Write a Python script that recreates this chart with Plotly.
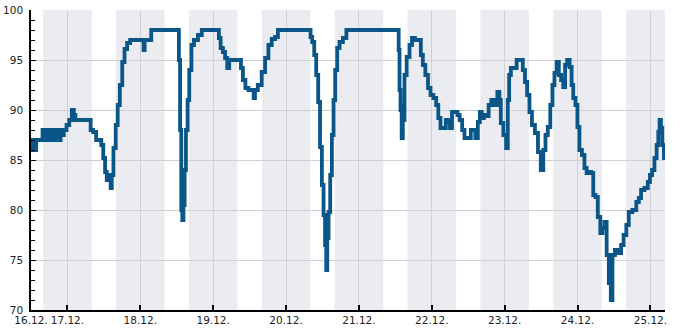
import datetime as dt
import plotly.graph_objects as go

# ---- data ----
base = dt.datetime(2023, 12, 16, 0, 0)

hours = [
    12.0, 13.2, 13.5, 13.9, 15.6, 16.0, 16.3, 16.7, 17.1, 17.5, 17.9, 18.4, 18.8, 19.3, 19.7,
    20.2, 20.6, 21.0, 21.5, 22.0, 22.4, 23.2, 24.2, 25.0, 25.9, 26.3, 26.9, 31.5, 31.8, 33.1,
    33.8, 34.8, 35.5, 36.1, 36.7, 37.2, 37.5, 38.06, 38.4, 38.8, 39.5, 40.3, 40.8, 41.7, 42.4,
    43.2, 44.1, 45.2, 48.9, 49.25, 49.6, 53.6, 60.54, 60.87, 61.33, 61.66, 61.99, 62.42, 62.75,
    63.31, 63.84, 64.39, 65.28, 66.04, 67.92, 68.58, 73.71, 74.04, 74.83, 75.59, 76.25, 77.0,
    77.56, 80.86, 81.42, 82.17, 83.06, 84.15, 85.1, 85.56, 85.96, 87.44, 88.53, 89.65, 90.73,
    91.82, 92.94, 93.7, 103.9, 104.23, 104.99, 105.55, 106.31, 106.86, 107.52, 108.08, 108.61,
    109.07, 109.4, 109.73, 110.26, 110.82, 111.37, 111.9, 112.46, 113.22, 114.01, 115.43,
    116.31, 132.97, 133.2, 133.53, 133.86, 134.29, 134.62, 134.85, 135.18, 136.26, 137.05,
    137.91, 139.03, 140.11, 140.67, 141.43, 142.32, 143.18, 143.97, 145.05, 145.81, 146.47,
    147.26, 148.35, 148.9, 149.76, 150.22, 151.08, 152.2, 152.72, 153.61, 154.37, 155.16,
    156.58, 157.13, 157.89, 158.78, 159.54, 160.1, 160.76, 161.51, 162.27, 163.16, 164.05,
    165.14, 166.03, 166.45, 167.01, 168.1, 168.86, 169.19, 169.75, 170.31, 171.72, 172.15,
    173.6, 174.35, 175.01, 175.77, 176.56, 177.41, 178.53, 179.39, 180.38, 181.04, 181.83,
    182.58, 183.47, 184.0, 184.79, 185.45, 186.21, 186.96, 187.62, 188.18, 188.94, 189.83,
    190.25, 190.91, 191.7, 192.23, 193.02, 193.88, 194.67, 195.33, 196.08, 196.84, 197.5,
    198.29, 199.05, 199.94, 200.46, 201.25, 201.91, 202.67, 203.23, 203.75, 204.87, 205.96,
    206.72, 207.61, 208.5, 209.25, 210.9, 211.79, 212.55, 213.3, 214.75, 215.51, 216.17,
    216.93, 217.72, 218.38, 218.81, 219.23, 219.69, 220.12, 220.78,
]
values = [
    86, 87, 86, 87, 87, 88, 87, 88, 87, 88, 87, 88, 87, 88, 87,
    88, 87.3, 88, 87, 88, 87.5, 88, 88.5, 89, 90, 89.5, 89, 89, 88, 87.8,
    87, 87, 86.5, 85.2, 83.8, 83, 83.5, 83, 82.2, 83.5, 86.2, 88.5, 90.5, 92.5, 94.8,
    96.1, 96.7, 97, 97, 96, 97, 98, 98, 95, 88, 80, 79, 80.5, 84,
    88, 91, 94, 96.5, 97, 97.5, 98, 98, 97.2, 96.2, 95.8, 95.2, 94.2,
    95, 95, 94.2, 93, 92.2, 92, 92, 91.2, 92, 92.5, 93.8, 95.2, 96.5,
    97.1, 97.3, 98, 98, 97.3, 96.8, 95.5, 93.5, 90.8, 86.3, 82.5, 79.5,
    76.5, 74, 77.2, 79.8, 83.5, 87.5, 91, 94, 96.2, 96.8, 97.2,
    98, 98, 96, 92, 90, 87.2, 90.5, 89, 93.5, 95.3, 96.5,
    97.2, 97, 97, 95.5, 94.5, 93.5, 92.2, 91.5, 91.2, 90.5, 89.2,
    88.2, 88.2, 89, 88.8, 88.2, 89.8, 89.8, 89.5, 89, 88, 87.2,
    87.2, 88, 88, 87.2, 88.8, 89.8, 89.2, 89.5, 89.4, 90.5, 91,
    90.5, 91.8, 91, 88.7, 87.5, 86.2, 91, 93.5, 94.2, 94.2, 95,
    95, 94, 92.8, 91.5, 89.8, 88.5, 87.7, 85.8, 84, 86, 87.5,
    88.3, 90.5, 92.5, 93.7, 94.8, 93.5, 93, 92.3, 94.5, 95, 94.3,
    92.5, 91.2, 90.5, 88.3, 86, 85.5, 84.2, 83.7, 83.8, 83.7, 81.5,
    81.3, 79.3, 77.7, 78.2, 78.8, 75.5, 72.7, 71, 75.5, 76, 75.7,
    76.5, 77.5, 78.5, 79.8, 80, 80.8, 81.2, 82, 82.2, 82.8, 83.5,
    84, 85.2, 86.5, 87.8, 89, 88.2, 86.5, 85.2,
]

tick_labels = ["16.12.", "17.12.", "18.12.", "19.12.", "20.12.", "21.12.",
               "22.12.", "23.12.", "24.12.", "25.12."]
tick_hours = [12, 24, 48, 72, 96, 120, 144, 168, 192, 216]
band_start_hours = [16, 40, 64, 88, 112, 136, 160, 184, 208]   # 16:00 -> 08:00 next day
band_length_hours = 16
x_range_hours = [12, 220.8]
y_range = [70, 100]

LINE = "#0b5688"
BAND = "#ebecf1"
GRID = "#d0d0d4"

def t(h):
    return base + dt.timedelta(hours=h)

fig = go.Figure()
fig.add_trace(go.Scatter(
    x=[t(h) for h in hours], y=values, mode="lines",
    line=dict(color=LINE, width=3.8, shape="hvh"),
    hoverinfo="skip", showlegend=False,
))

for s in band_start_hours:
    fig.add_shape(type="rect", xref="x", yref="paper",
                  x0=t(s), x1=t(min(s + band_length_hours, x_range_hours[1])),
                  y0=0, y1=1, fillcolor=BAND, line_width=0, layer="below")

fig.update_layout(
    width=685, height=330,
    margin=dict(l=31, r=20, t=10, b=20, autoexpand=False),
    paper_bgcolor="white", plot_bgcolor="white",
    font=dict(family="DejaVu Sans", size=10.5, color="#222222"),
    showlegend=False,
)
fig.update_xaxes(
    range=[t(x_range_hours[0]), t(x_range_hours[1])],
    tickmode="array", tickvals=[t(h) for h in tick_hours], ticktext=tick_labels,
    showgrid=True, gridcolor=GRID, gridwidth=1,
    showline=True, linecolor="black", linewidth=1.5,
    ticks="inside", ticklen=5, tickcolor="black", tickwidth=1.5,
    zeroline=False, automargin=False,
)
fig.update_yaxes(
    range=y_range, tickmode="linear", tick0=70, dtick=5,
    showgrid=True, gridcolor=GRID, gridwidth=1,
    showline=True, linecolor="black", linewidth=1.5,
    ticks="inside", ticklen=5, tickcolor="black", tickwidth=1,
    minor=dict(ticks="inside", ticklen=4, dtick=1, tickcolor="black", showgrid=False),
    zeroline=False, ticklabelstandoff=4, automargin=False,
)

fig.write_html("out.html")
